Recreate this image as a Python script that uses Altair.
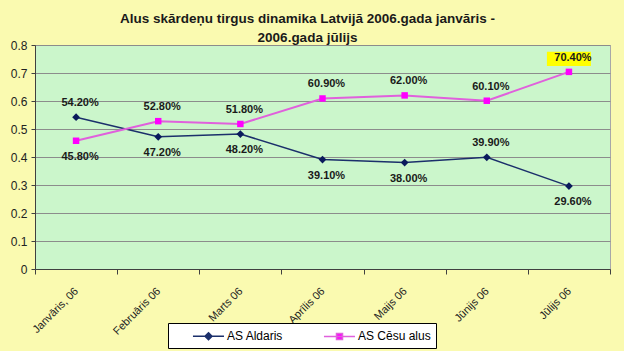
import altair as alt
import pandas as pd

months = ["Janvāris, 06", "Februāris 06", "Marts 06", "Aprīlis 06",
          "Maijs 06", "Jūnijs 06", "Jūlijs 06"]
aldaris = [0.542, 0.472, 0.482, 0.391, 0.380, 0.399, 0.296]
cesu = [0.458, 0.528, 0.518, 0.609, 0.620, 0.601, 0.704]
series_names = ["AS Aldaris", "AS Cēsu alus"]
aldaris_label_side = ["above", "below", "below", "below", "below", "above", "below"]
cesu_label_side = ["below", "above", "above", "above", "above", "above", "above"]
y_ticks = [0, 0.1, 0.2, 0.3, 0.4, 0.5, 0.6, 0.7, 0.8]
title_lines = ["Alus skārdeņu tirgus dinamika Latvijā 2006.gada janvāris -",
               "2006.gada jūlijs"]

rows = []
for name, vals, sides in [(series_names[0], aldaris, aldaris_label_side),
                          (series_names[1], cesu, cesu_label_side)]:
    for m, v, s in zip(months, vals, sides):
        rows.append({"month": m, "value": v, "series": name, "side": s,
                     "label": f"{v * 100:.2f}%"})
df = pd.DataFrame(rows)

NAVY = "#1B2F6B"
MAGENTA = "#E060DC"
FONT = "Liberation Sans"

x_enc = alt.X("month:N", sort=months,
              scale=alt.Scale(type="band", domain=months, paddingInner=0, paddingOuter=0),
              axis=alt.Axis(title=None, tickBand="extent", labelAngle=-45,
                            labelAlign="right", labelBaseline="top", labelPadding=11,
                            labelOffset=-4,
                            labelFontSize=11, labelFont=FONT, labelColor="#222222",
                            labelLimit=200, grid=False, tickSize=5, tickColor="#404040",
                            domainColor="#404040"))
y_enc = alt.Y("value:Q", scale=alt.Scale(domain=[0, 0.8], nice=False, zero=True),
              axis=alt.Axis(title=None, values=y_ticks, grid=True, gridColor="#8C8C8C",
                            tickSize=4, tickColor="#404040", domainColor="#404040",
                            labelFontSize=12, labelFont=FONT, labelColor="#222222",
                            labelPadding=4,
                            labelExpr="datum.value == 0 ? '0' : format(datum.value, '.1f')"))

base = alt.Chart(df).encode(x=x_enc, y=y_enc)

line_a = base.transform_filter(alt.datum.series == series_names[0]).mark_line(
    color=NAVY, strokeWidth=1.5)
line_c = base.transform_filter(alt.datum.series == series_names[1]).mark_line(
    color=MAGENTA, strokeWidth=2)
pts_a = base.transform_filter(alt.datum.series == series_names[0]).mark_point(
    shape="diamond", filled=True, size=60, color="#0A1A5C", opacity=1)
pts_c = base.transform_filter(alt.datum.series == series_names[1]).mark_point(
    shape="square", filled=True, size=42, color="#FF00FF", opacity=1)

highlight = base.transform_filter(
    (alt.datum.series == series_names[1]) & (alt.datum.month == months[-1])
).mark_point(shape="M-1,-0.32H1V0.32H-1Z", filled=True, size=1936,
             color="#FFFF00", opacity=1, yOffset=-13)

txt_style = dict(font=FONT, fontSize=11, fontWeight="bold", color="#1A1A1A",
                 baseline="middle", align="center")
txt_above = base.transform_filter(alt.datum.side == "above").mark_text(
    dy=-14, dx=4, **txt_style).encode(text="label:N")
txt_below = base.transform_filter(alt.datum.side == "below").mark_text(
    dy=16, dx=4, **txt_style).encode(text="label:N")

path_a = "M1.71,0H6.14M3.93,-0.5L4.43,0L3.93,0.5L3.43,0Z"
path_c = "M1.71,0H6.14M3.5,-0.43H4.36V0.43H3.5Z"
pad = "\u00a0" * 24
leg = alt.Legend(title=None, orient="none", legendX=133, legendY=278,
                 direction="horizontal", fillColor="#FFFFFF", strokeColor="#000000",
                 padding=5, symbolSize=196, symbolStrokeWidth=1.5, symbolOpacity=1,
                 labelOffset=38, columnPadding=20, labelFont=FONT, labelFontSize=12,
                 labelColor="#000000",
                 labelExpr=f"datum.value == 'AS Cēsu alus' ? datum.label + '{pad}' : datum.label")
legend_layer = base.mark_point(filled=True, opacity=0).encode(
    color=alt.Color("series:N", scale=alt.Scale(domain=series_names, range=[NAVY, "#FF00FF"]),
                    legend=leg),
    stroke=alt.Stroke("series:N", scale=alt.Scale(domain=series_names, range=[NAVY, "#E060DC"]),
                      legend=leg),
    shape=alt.Shape("series:N", scale=alt.Scale(domain=series_names, range=[path_a, path_c]),
                    legend=leg),
)

chart = alt.layer(
    line_a, line_c, pts_a, pts_c, highlight, txt_above, txt_below, legend_layer
).properties(
    width=575, height=224,
    title=alt.TitleParams(text=title_lines, font=FONT, fontSize=13.5,
                          fontWeight="bold", anchor="middle", dx=-15, offset=-5,
                          lineHeight=19, color="#1A1A1A"),
    autosize=alt.AutoSizeParams(type="none"),
    padding={"left": 35, "top": 45, "right": 14, "bottom": 82},
).configure(
    background="#FAFAB0",
).configure_view(
    fill="#CBF6CB", stroke="#A8A8A8", strokeWidth=1,
)

chart.save("out.html", embed_options={"renderer": "svg", "actions": False})
